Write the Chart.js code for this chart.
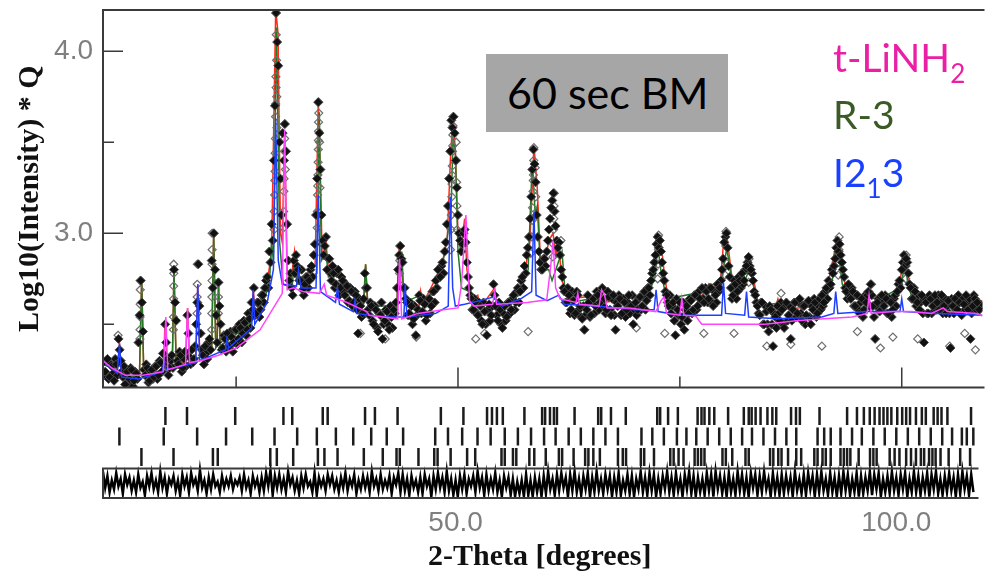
<!DOCTYPE html>
<html>
<head>
<meta charset="utf-8">
<script src="https://cdn.jsdelivr.net/npm/chart.js@4.4.1/dist/chart.umd.min.js"></script>
<style>
  body { margin: 0; background: #fff; }
  #wrap { position: relative; width: 988px; height: 572px; overflow: hidden; }
  canvas { position: absolute; left: 0; }
  .note { position: absolute; left: 486px; top: 54px; width: 242px; height: 78px; background: #a6a6a6;
          font-family: Lato, sans-serif; font-size: 43px; line-height: 78px; color: #000; box-sizing: border-box; padding-left: 21px; white-space: nowrap; }
  .phase { position: absolute; left: 833px; font-family: Lato, sans-serif; font-size: 39px; line-height: 1.2; white-space: nowrap; }
  .phase span { font-size: 26px; vertical-align: -11px; }
</style>
</head>
<body>
<div id="wrap">
  <canvas id="mainPlot" width="988" height="393" style="top:0"></canvas>
  <canvas id="lowerPlot" width="988" height="179" style="top:393px"></canvas>
  <div class="note">60 sec BM</div>
  <div class="phase" style="top:34px;color:#ea1fa5">t-LiNH<span>2</span></div>
  <div class="phase" style="top:91px;color:#3b5a26">R-3</div>
  <div class="phase" style="top:149px;color:#1a40ff">I2<span>1</span>3</div>
</div>
<script>
// 2-theta grid of the scan
const obsTwoTheta = [
  10,10.25,10.5,10.75,11,11.25,11.5,11.75,
  12,12.25,12.5,12.75,13,13.25,13.5,13.75,
  14,14.25,14.5,14.75,15,15.25,15.5,15.75,
  16,16.25,16.5,16.75,17,17.25,17.5,17.75,
  18,18.25,18.5,18.75,19,19.25,19.5,19.75,
  20,20.25,20.5,20.75,21,21.25,21.5,21.75,
  22,22.25,22.5,22.75,23,23.25,23.5,23.75,
  24,24.25,24.5,24.75,25,25.25,25.5,25.75,
  26,26.25,26.5,26.75,27,27.25,27.5,27.75,
  28,28.25,28.5,28.75,29,29.25,29.5,29.75,
  30,30.25,30.5,30.75,31,31.25,31.5,31.75,
  32,32.25,32.5,32.75,33,33.25,33.5,33.75,
  34,34.25,34.5,34.75,35,35.25,35.5,35.75,
  36,36.25,36.5,36.75,37,37.25,37.5,37.75,
  38,38.25,38.5,38.75,39,39.25,39.5,39.75,
  40,40.25,40.5,40.75,41,41.25,41.5,41.75,
  42,42.25,42.5,42.75,43,43.25,43.5,43.75,
  44,44.25,44.5,44.75,45,45.25,45.5,45.75,
  46,46.25,46.5,46.75,47,47.25,47.5,47.75,
  48,48.25,48.5,48.75,49,49.25,49.5,49.75,
  50,50.25,50.5,50.75,51,51.25,51.5,51.75,
  52,52.25,52.5,52.75,53,53.25,53.5,53.75,
  54,54.25,54.5,54.75,55,55.25,55.5,55.75,
  56,56.25,56.5,56.75,57,57.25,57.5,57.75,
  58,58.25,58.5,58.75,59,59.25,59.5,59.75,
  60,60.25,60.5,60.75,61,61.25,61.5,61.75,
  62,62.25,62.5,62.75,63,63.25,63.5,63.75,
  64,64.25,64.5,64.75,65,65.25,65.5,65.75,
  66,66.25,66.5,66.75,67,67.25,67.5,67.75,
  68,68.25,68.5,68.75,69,69.25,69.5,69.75,
  70,70.25,70.5,70.75,71,71.25,71.5,71.75,
  72,72.25,72.5,72.75,73,73.25,73.5,73.75,
  74,74.25,74.5,74.75,75,75.25,75.5,75.75,
  76,76.25,76.5,76.75,77,77.25,77.5,77.75,
  78,78.25,78.5,78.75,79,79.25,79.5,79.75,
  80,80.25,80.5,80.75,81,81.25,81.5,81.75,
  82,82.25,82.5,82.75,83,83.25,83.5,83.75,
  84,84.25,84.5,84.75,85,85.25,85.5,85.75,
  86,86.25,86.5,86.75,87,87.25,87.5,87.75,
  88,88.25,88.5,88.75,89,89.25,89.5,89.75,
  90,90.25,90.5,90.75,91,91.25,91.5,91.75,
  92,92.25,92.5,92.75,93,93.25,93.5,93.75,
  94,94.25,94.5,94.75,95,95.25,95.5,95.75,
  96,96.25,96.5,96.75,97,97.25,97.5,97.75,
  98,98.25,98.5,98.75,99,99.25,99.5,99.75,
  100,100.25,100.5,100.75,101,101.25,101.5,101.75,
  102,102.25,102.5,102.75,103,103.25,103.5,103.75,
  104,104.25,104.5,104.75,105,105.25,105.5,105.75,
  106,106.25,106.5,106.75,107,107.25,107.5,107.75,
  108,108.25,108.5,108.75
];

// observed log10(I)*Q on that grid
const obsIntensity = [
  2.29,2.24,2.31,2.21,2.27,2.19,2.28,2.42,
  2.30,2.21,2.17,2.24,2.20,2.25,2.19,2.23,
  2.40,2.74,2.46,2.22,2.26,2.19,2.25,2.21,
  2.27,2.22,2.29,2.34,2.50,2.31,2.26,2.33,
  2.80,2.52,2.28,2.33,2.26,2.35,2.55,2.32,
  2.36,2.31,2.50,2.83,2.45,2.33,2.38,2.31,
  2.42,2.85,3.00,2.55,2.73,2.50,2.37,2.42,
  2.45,2.38,2.43,2.40,2.47,2.42,2.48,2.45,
  2.51,2.47,2.53,2.62,2.70,2.56,2.62,2.58,
  2.66,2.70,2.76,2.90,3.05,3.40,4.21,3.92,
  3.30,3.55,3.60,3.05,2.74,2.70,2.85,2.88,
  2.80,2.74,2.69,2.72,2.76,2.74,2.82,2.88,
  3.10,3.72,3.35,2.96,2.93,2.80,2.86,2.74,
  2.78,2.72,2.80,2.70,2.74,2.66,2.71,2.63,
  2.68,2.62,2.66,2.45,2.60,2.56,2.78,2.70,
  2.55,2.60,2.50,2.58,2.46,2.55,2.42,2.52,
  2.57,2.47,2.54,2.58,2.62,2.80,2.93,2.84,
  2.70,2.62,2.56,2.60,2.53,2.44,2.58,2.63,
  2.57,2.61,2.55,2.64,2.60,2.68,2.74,2.80,
  2.76,2.84,2.90,3.05,3.30,3.62,3.64,3.40,
  3.10,2.96,2.94,3.02,2.84,2.70,2.64,2.58,
  2.62,2.55,2.60,2.50,2.57,2.44,2.61,2.55,
  2.72,2.60,2.52,2.58,2.48,2.60,2.54,2.62,
  2.58,2.66,2.62,2.70,2.68,2.76,2.82,2.88,
  2.98,3.20,3.46,3.28,2.98,2.84,2.80,2.86,
  2.90,3.02,3.14,3.22,3.04,2.92,2.88,2.76,
  2.68,2.62,2.66,2.58,2.63,2.56,2.66,2.60,
  2.53,2.47,2.58,2.62,2.55,2.64,2.60,2.66,
  2.62,2.70,2.64,2.58,2.65,2.55,2.66,2.47,
  2.60,2.64,2.56,2.62,2.58,2.66,2.60,2.50,
  2.62,2.58,2.65,2.60,2.68,2.63,2.70,2.74,
  2.80,2.88,2.98,2.96,2.84,2.74,2.66,2.60,
  2.56,2.62,2.44,2.58,2.62,2.54,2.47,2.60,
  2.56,2.63,2.58,2.66,2.60,2.64,2.70,2.62,
  2.68,2.64,2.70,2.60,2.66,2.72,2.70,2.80,
  2.95,3.00,2.82,2.70,2.66,2.72,2.68,2.74,
  2.78,2.74,2.82,2.87,2.80,2.74,2.66,2.60,
  2.55,2.62,2.50,2.57,2.46,2.58,2.38,2.54,
  2.60,2.52,2.58,2.48,2.62,2.55,2.42,2.58,
  2.62,2.56,2.64,2.52,2.60,2.55,2.63,2.50,
  2.58,2.62,2.56,2.64,2.66,2.62,2.70,2.74,
  2.72,2.78,2.86,2.96,2.94,2.84,2.76,2.68,
  2.72,2.64,2.68,2.60,2.66,2.56,2.64,2.58,
  2.62,2.68,2.72,2.60,2.42,2.62,2.57,2.66,
  2.60,2.64,2.56,2.62,2.58,2.66,2.68,2.74,
  2.80,2.88,2.86,2.78,2.70,2.64,2.68,2.62,
  2.58,2.66,2.40,2.62,2.56,2.64,2.60,2.66,
  2.62,2.58,2.66,2.60,2.56,2.63,2.37,2.60,
  2.64,2.58,2.62,2.55,2.61,2.66,2.58,2.42,
  2.60,2.64,2.62,2.58
];

// the interleaved scan points half a step later
const obsTwoThetaMid = [
  10.125,10.375,10.625,10.875,11.125,11.375,11.625,11.875,
  12.125,12.375,12.625,12.875,13.125,13.375,13.625,13.875,
  14.125,14.375,14.625,14.875,15.125,15.375,15.625,15.875,
  16.125,16.375,16.625,16.875,17.125,17.375,17.625,17.875,
  18.125,18.375,18.625,18.875,19.125,19.375,19.625,19.875,
  20.125,20.375,20.625,20.875,21.125,21.375,21.625,21.875,
  22.125,22.375,22.625,22.875,23.125,23.375,23.625,23.875,
  24.125,24.375,24.625,24.875,25.125,25.375,25.625,25.875,
  26.125,26.375,26.625,26.875,27.125,27.375,27.625,27.875,
  28.125,28.375,28.625,28.875,29.125,29.375,29.625,29.875,
  30.125,30.375,30.625,30.875,31.125,31.375,31.625,31.875,
  32.125,32.375,32.625,32.875,33.125,33.375,33.625,33.875,
  34.125,34.375,34.625,34.875,35.125,35.375,35.625,35.875,
  36.125,36.375,36.625,36.875,37.125,37.375,37.625,37.875,
  38.125,38.375,38.625,38.875,39.125,39.375,39.625,39.875,
  40.125,40.375,40.625,40.875,41.125,41.375,41.625,41.875,
  42.125,42.375,42.625,42.875,43.125,43.375,43.625,43.875,
  44.125,44.375,44.625,44.875,45.125,45.375,45.625,45.875,
  46.125,46.375,46.625,46.875,47.125,47.375,47.625,47.875,
  48.125,48.375,48.625,48.875,49.125,49.375,49.625,49.875,
  50.125,50.375,50.625,50.875,51.125,51.375,51.625,51.875,
  52.125,52.375,52.625,52.875,53.125,53.375,53.625,53.875,
  54.125,54.375,54.625,54.875,55.125,55.375,55.625,55.875,
  56.125,56.375,56.625,56.875,57.125,57.375,57.625,57.875,
  58.125,58.375,58.625,58.875,59.125,59.375,59.625,59.875,
  60.125,60.375,60.625,60.875,61.125,61.375,61.625,61.875,
  62.125,62.375,62.625,62.875,63.125,63.375,63.625,63.875,
  64.125,64.375,64.625,64.875,65.125,65.375,65.625,65.875,
  66.125,66.375,66.625,66.875,67.125,67.375,67.625,67.875,
  68.125,68.375,68.625,68.875,69.125,69.375,69.625,69.875,
  70.125,70.375,70.625,70.875,71.125,71.375,71.625,71.875,
  72.125,72.375,72.625,72.875,73.125,73.375,73.625,73.875,
  74.125,74.375,74.625,74.875,75.125,75.375,75.625,75.875,
  76.125,76.375,76.625,76.875,77.125,77.375,77.625,77.875,
  78.125,78.375,78.625,78.875,79.125,79.375,79.625,79.875,
  80.125,80.375,80.625,80.875,81.125,81.375,81.625,81.875,
  82.125,82.375,82.625,82.875,83.125,83.375,83.625,83.875,
  84.125,84.375,84.625,84.875,85.125,85.375,85.625,85.875,
  86.125,86.375,86.625,86.875,87.125,87.375,87.625,87.875,
  88.125,88.375,88.625,88.875,89.125,89.375,89.625,89.875,
  90.125,90.375,90.625,90.875,91.125,91.375,91.625,91.875,
  92.125,92.375,92.625,92.875,93.125,93.375,93.625,93.875,
  94.125,94.375,94.625,94.875,95.125,95.375,95.625,95.875,
  96.125,96.375,96.625,96.875,97.125,97.375,97.625,97.875,
  98.125,98.375,98.625,98.875,99.125,99.375,99.625,99.875,
  100.125,100.375,100.625,100.875,101.125,101.375,101.625,101.875,
  102.125,102.375,102.625,102.875,103.125,103.375,103.625,103.875,
  104.125,104.375,104.625,104.875,105.125,105.375,105.625,105.875,
  106.125,106.375,106.625,106.875,107.125,107.375,107.625,107.875,
  108.125,108.375,108.625,108.875
];

const obsIntensityMid = [
  2.22,2.30,2.20,2.28,2.23,2.31,2.22,2.36,
  2.24,2.27,2.21,2.18,2.26,2.16,2.24,2.20,
  2.55,2.62,2.25,2.28,2.18,2.24,2.20,2.27,
  2.20,2.30,2.24,2.28,2.40,2.22,2.30,2.26,
  2.62,2.30,2.35,2.24,2.31,2.27,2.45,2.28,
  2.29,2.38,2.62,2.60,2.36,2.28,2.34,2.40,
  2.36,2.70,2.80,2.40,2.60,2.36,2.44,2.35,
  2.38,2.46,2.35,2.47,2.39,2.50,2.40,2.52,
  2.44,2.56,2.48,2.58,2.55,2.62,2.54,2.66,
  2.62,2.74,2.70,2.84,2.96,3.70,4.05,3.50,
  3.10,3.40,3.45,2.85,2.78,2.66,2.78,2.82,
  2.74,2.80,2.66,2.76,2.70,2.80,2.76,2.94,
  3.30,3.55,3.10,2.88,2.98,2.86,2.78,2.82,
  2.70,2.78,2.66,2.76,2.68,2.72,2.62,2.70,
  2.60,2.68,2.58,2.64,2.54,2.64,2.70,2.58,
  2.62,2.52,2.60,2.48,2.56,2.62,2.50,2.58,
  2.50,2.60,2.48,2.56,2.70,2.88,2.86,2.70,
  2.64,2.55,2.62,2.50,2.60,2.55,2.66,2.56,
  2.64,2.52,2.62,2.56,2.68,2.62,2.70,2.76,
  2.82,2.78,2.95,3.15,3.45,3.58,3.55,3.25,
  3.00,2.90,3.00,2.95,2.76,2.66,2.58,2.64,
  2.56,2.62,2.52,2.62,2.50,2.58,2.52,2.60,
  2.66,2.55,2.62,2.50,2.56,2.52,2.62,2.56,
  2.64,2.58,2.68,2.62,2.74,2.70,2.78,2.92,
  3.08,3.35,3.38,3.10,2.90,2.80,2.86,2.82,
  2.96,3.08,3.18,3.12,2.96,2.95,2.80,2.70,
  2.62,2.70,2.56,2.68,2.55,2.68,2.58,2.54,
  2.60,2.55,2.66,2.54,2.62,2.56,2.68,2.58,
  2.68,2.60,2.56,2.68,2.58,2.64,2.55,2.62,
  2.66,2.55,2.64,2.54,2.62,2.56,2.66,2.58,
  2.55,2.64,2.58,2.66,2.58,2.70,2.66,2.78,
  2.84,2.94,2.92,2.90,2.78,2.68,2.62,2.66,
  2.60,2.52,2.64,2.55,2.50,2.62,2.58,2.52,
  2.64,2.56,2.66,2.58,2.68,2.62,2.64,2.70,
  2.62,2.70,2.62,2.68,2.62,2.68,2.74,2.86,
  2.98,2.92,2.76,2.64,2.74,2.64,2.76,2.70,
  2.72,2.80,2.84,2.82,2.78,2.68,2.62,2.56,
  2.62,2.50,2.60,2.50,2.60,2.50,2.56,2.48,
  2.56,2.62,2.50,2.60,2.52,2.60,2.52,2.62,
  2.54,2.62,2.56,2.60,2.50,2.62,2.54,2.60,
  2.64,2.54,2.60,2.58,2.60,2.68,2.64,2.70,
  2.80,2.82,2.92,2.90,2.88,2.80,2.70,2.64,
  2.66,2.70,2.60,2.66,2.58,2.62,2.54,2.66,
  2.66,2.60,2.66,2.54,2.60,2.64,2.58,2.62,
  2.66,2.56,2.64,2.54,2.64,2.60,2.72,2.70,
  2.84,2.82,2.84,2.72,2.64,2.70,2.60,2.66,
  2.62,2.56,2.64,2.56,2.66,2.56,2.64,2.58,
  2.66,2.62,2.56,2.64,2.60,2.56,2.64,2.56,
  2.60,2.66,2.56,2.64,2.58,2.62,2.64,2.56,
  2.66,2.58,2.62,2.60
];

const obsExtra = [
  [29.5,4.21],[29.52,4.09],[29.48,3.86],[29.5,3.80],[29.46,3.71],[29.44,3.64],[29.42,3.52],[29.4,3.44],
  [29.38,3.34],[29.36,3.29],[29.34,3.21],[29.3,3.12],[29.28,3.02],[29.56,3.95],[29.58,3.75],[29.6,3.58],
  [30.45,3.60],[30.47,3.52],[30.44,3.45],[30.42,3.40],[30.4,3.30],[30.38,3.23],[30.36,3.12],[30.34,3.03],[30.55,3.35],
  [34.3,3.72],[34.31,3.66],[34.29,3.61],[34.28,3.56],[34.27,3.51],[34.26,3.46],[34.24,3.39],[34.22,3.32],
  [34.2,3.26],[34.18,3.21],[34.16,3.12],[34.14,3.03],[34.4,3.50],[34.45,3.25],
  [49.45,3.64],[49.44,3.59],[49.42,3.54],[49.4,3.48],[49.38,3.45],[49.36,3.37],[49.34,3.32],[49.32,3.27],
  [49.3,3.20],[49.26,3.10],[49.22,3.02],[49.15,2.91],[49.8,3.50],[49.82,3.40],[49.85,3.28],[49.88,3.15],[49.9,3.02],
  [58.55,3.47],[58.53,3.40],[58.5,3.32],[58.48,3.29],[58.45,3.23],[58.4,3.14],[58.36,3.07],[58.3,2.98],
  [58.2,2.89],[58.7,3.36],[58.75,3.20],
  [60.84,3.22],[60.82,3.15],[60.8,3.08],[60.78,3.02],[60.75,2.94],[60.7,2.87],
  [22.3,3.00],[22.3,2.91],[22.29,2.83],[22.28,2.74],[22.27,2.65],[22.26,2.56],[22.25,2.47],
  [14.2,2.74],[14.2,2.69],[14.19,2.61],[14.18,2.54],[14.17,2.47],[14.16,2.42],
  [17.97,2.83],[17.97,2.78],[17.96,2.71],[17.95,2.64],[17.94,2.54],[17.93,2.47],
  [20.63,2.83],[20.62,2.72],[20.61,2.65],[20.6,2.56],[23.02,2.73],[23.01,2.65],[23.0,2.56],
  [43.45,2.93],[43.43,2.85],[43.41,2.78],[43.6,2.71],[72.6,2.99],[72.58,2.91],[72.55,2.83],[72.5,2.75],
  [80.2,3.01],[80.18,2.93],[80.15,2.84],[80.1,2.77],[82.8,2.86],[82.78,2.80],[82.75,2.73],
  [92.95,2.98],[92.93,2.91],[92.9,2.84],[92.85,2.77],[100.5,2.88],[100.48,2.82],[100.45,2.75],
  [11.7,2.44],[39.0,2.45],[41.8,2.42],[45.3,2.43],[52.0,2.42],[53.0,2.45],[57.9,2.46],[61.6,2.96],
  [64.2,2.47],[70.1,2.48],[73.3,2.45],[77.7,2.45],[81.1,2.45],[84.8,2.38],[86.4,2.67],[87.5,2.39],
  [91.0,2.38],[95.0,2.46],[96.6,2.72],[97.6,2.37],[99.0,2.43],[101.8,2.42],[105.4,2.38],[107.1,2.45],[108.3,2.36]
];

// observed minus calculated (scaled to the difference strip)
const diffCurve = [
  0.8,-0.3,0.5,-0.6,0.2,-0.4,0.7,-0.2,
  0.3,-0.7,0.6,-0.1,0.4,-0.5,0.2,-0.6,
  0.6,-0.3,0.1,-0.8,0.5,-0.2,0.7,-0.4,
  0.2,-0.6,0.8,-0.3,0.4,-0.7,0.3,-0.1,
  0.5,-0.5,0.2,-0.8,0.6,-0.2,0.4,-0.6,
  0.7,-0.1,0.3,-0.5,0.9,-0.3,0.2,-0.7,
  0.4,-0.4,0.6,-0.2,0.1,-0.6,0.5,-0.3,
  0.3,-0.2,0.5,-0.4,0.2,-0.1,0.4,-0.5,
  0.6,-0.3,0.2,-0.7,0.5,-0.2,0.3,-0.6,
  0.4,-0.5,0.7,-0.2,0.9,-0.8,0.5,-0.3,
  0.6,-0.4,0.3,-0.6,0.8,-0.1,0.4,-0.5,
  0.2,-0.7,0.5,-0.3,0.6,-0.2,0.1,-0.6,
  0.7,-0.8,0.4,-0.2,0.3,-0.5,0.6,-0.1,
  0.5,-0.4,0.2,-0.6,0.4,-0.3,0.7,-0.5,
  0.3,-0.2,0.6,-0.7,0.2,-0.4,0.5,-0.3,
  0.4,-0.6,0.8,-0.2,0.3,-0.5,0.6,-0.4,
  0.2,-0.3,0.5,-0.7,0.4,-0.1,0.7,-0.6,
  0.6,-0.5,0.3,-0.8,0.5,-0.3,0.2,-0.6,
  0.4,-0.7,0.6,-0.2,0.3,-0.9,0.5,-0.4,
  0.7,-0.3,0.4,-0.6,0.8,-0.5,0.3,-0.8,
  0.2,-0.9,0.5,-0.4,0.6,-0.7,0.3,-0.2,
  0.5,-0.6,0.8,-0.3,0.4,-0.8,0.6,-0.5,
  0.3,-0.4,0.7,-0.6,0.2,-0.9,0.5,-0.3,
  0.4,-0.8,0.3,-0.9,0.1,-0.7,0.2,-0.9,
  0.6,-0.8,0.2,-0.9,0.4,-0.6,0.3,-0.9,
  0.5,-0.7,0.8,-0.4,0.3,-0.8,0.6,-0.5,
  0.7,-0.3,0.4,-0.9,0.6,-0.5,0.8,-0.6,
  0.3,-0.8,0.5,-0.4,0.7,-0.9,0.4,-0.6,
  0.8,-0.5,0.3,-0.7,0.6,-0.4,0.5,-0.9,
  0.4,-0.6,0.7,-0.8,0.2,-0.5,0.6,-0.7,
  0.5,-0.9,0.3,-0.4,0.8,-0.6,0.4,-0.8,
  0.7,-0.5,0.6,-0.9,0.3,-0.7,0.5,-0.4,
  0.8,-0.6,0.4,-0.8,0.7,-0.5,0.3,-0.9,
  0.6,-0.4,0.8,-0.7,0.5,-0.9,0.4,-0.6,
  0.3,-0.8,0.7,-0.5,0.6,-0.9,0.8,-0.4,
  0.5,-0.7,0.4,-0.9,0.7,-0.6,0.3,-0.8,
  0.8,-0.5,0.6,-0.7,0.4,-0.9,0.7,-0.3,
  0.6,-0.8,0.5,-0.6,0.8,-0.4,0.3,-0.9,
  0.7,-0.6,0.4,-0.8,0.6,-0.7,0.5,-0.5,
  0.4,-0.9,0.8,-0.5,0.3,-0.7,0.6,-0.8,
  0.7,-0.4,0.5,-0.9,0.6,-0.6,0.8,-0.5,
  0.3,-0.8,0.7,-0.6,0.4,-0.9,0.5,-0.7,
  0.8,-0.5,0.6,-0.8,0.3,-0.6,0.7,-0.9,
  0.5,-0.7,0.4,-0.5,0.8,-0.8,0.6,-0.4,
  0.7,-0.9,0.3,-0.6,0.5,-0.7,0.8,-0.5,
  0.4,-0.8,0.6,-0.4,0.7,-0.9,0.3,-0.6,
  0.8,-0.6,0.5,-0.8,0.4,-0.5,0.7,-0.9,
  0.6,-0.4,0.8,-0.7,0.3,-0.8,0.5,-0.6,
  0.7,-0.5,0.4,-0.9,0.6,-0.7,0.8,-0.4,
  0.5,-0.8,0.6,-0.6
];

// calculated profiles [2theta, log10(I)*Q]
const calcTotal = [
  [10,2.29],[11.6,2.24],[11.86,2.40],[12.1,2.22],[14.1,2.21],[14.36,2.75],[14.6,2.22],
  [16.8,2.25],[17.0,2.52],[17.2,2.26],[17.8,2.27],[18.0,2.80],[18.25,2.28],[19.3,2.30],
  [19.53,2.59],[19.75,2.31],[20.45,2.33],[20.68,2.72],[20.9,2.34],[22.25,2.37],[22.47,3.01],
  [22.7,2.40],[22.85,2.40],[23.02,2.73],[23.2,2.40],[26.7,2.52],[26.93,2.69],[27.15,2.56],
  [28.0,2.66],[28.6,2.76],[29.0,2.90],[29.46,4.23],[29.72,4.10],[30.0,3.00],[30.2,2.95],
  [30.47,3.56],[30.75,2.80],[31.2,2.74],[31.58,2.90],[31.9,2.75],[32.03,2.80],[32.2,2.74],
  [33.9,2.82],[34.26,3.73],[34.5,3.30],[34.7,2.86],[34.93,2.88],[35.12,2.95],[35.4,2.80],
  [36.42,2.78],[37.5,2.70],[39.4,2.62],[39.59,2.83],[39.8,2.62],[40.6,2.58],[42.0,2.56],
  [43.1,2.58],[43.3,2.88],[43.42,2.93],[43.67,2.85],[43.9,2.64],[45.6,2.60],[45.79,2.68],
  [46.0,2.61],[47.58,2.76],[48.33,2.86],[48.8,2.98],[49.14,3.40],[49.44,3.65],[49.7,3.45],
  [50.0,3.00],[50.3,2.90],[50.75,3.08],[51.0,2.80],[51.6,2.64],[52.23,2.66],[52.5,2.59],
  [54.13,2.70],[54.4,2.59],[56.5,2.64],[57.5,2.78],[58.1,2.95],[58.56,3.48],[58.93,3.25],
  [59.3,2.84],[59.8,2.84],[60.23,2.96],[60.71,3.00],[61.0,2.88],[61.35,2.94],[61.7,2.74],
  [62.5,2.64],[66.18,2.66],[66.5,2.62],[71.5,2.66],[72.2,2.80],[72.51,2.99],[72.88,2.95],
  [73.2,2.80],[73.6,2.66],[74.5,2.62],[77.5,2.66],[78.24,2.72],[78.6,2.68],[79.6,2.76],
  [79.91,2.94],[80.28,2.99],[80.66,2.84],[81.0,2.70],[81.8,2.74],[82.51,2.86],[82.89,2.87],
  [83.26,2.76],[83.8,2.62],[85.68,2.58],[86.05,2.64],[86.4,2.58],[90.5,2.60],[91.6,2.70],
  [92.56,2.93],[92.9,2.97],[93.3,2.80],[93.8,2.68],[95.5,2.64],[96.99,2.66],[97.4,2.64],
  [99.6,2.66],[100.0,2.80],[100.36,2.88],[100.75,2.74],[101.2,2.66],[103.16,2.66],
  [104.46,2.68],[104.7,2.62],[109.1,2.63]
];

const calcR3 = [
  [10,2.28],[14.1,2.20],[14.36,2.745],[14.6,2.21],[17.8,2.25],[18.0,2.80],[18.25,2.26],
  [22.25,2.35],[22.47,3.005],[22.7,2.37],[22.85,2.38],[23.02,2.725],[23.2,2.38],[26.5,2.50],
  [28.0,2.62],[28.75,2.72],[28.98,2.95],[29.2,2.85],[29.55,4.13],[29.9,2.95],[30.3,2.72],
  [31.3,2.70],[31.58,2.86],[31.85,2.72],[34.1,2.78],[34.38,3.665],[34.6,2.85],[35.12,2.90],
  [35.4,2.76],[36.61,2.80],[36.9,2.72],[39.35,2.61],[39.59,2.83],[39.85,2.60],[41.74,2.60],
  [42.0,2.55],[43.1,2.57],[43.3,2.85],[43.5,2.70],[43.67,2.90],[43.9,2.62],[45.79,2.66],
  [46.1,2.60],[47.58,2.72],[47.96,2.74],[49.2,3.10],[49.44,3.52],[49.7,3.45],[50.0,2.90],
  [50.4,2.70],[51.31,2.68],[51.6,2.60],[55.58,2.62],[56.89,2.66],[57.9,2.80],[58.37,3.40],
  [58.7,3.10],[58.93,3.15],[59.3,2.80],[60.23,2.80],[60.6,2.74],[61.72,2.90],[62.0,2.72],
  [62.5,2.62],[65.07,2.64],[68.42,2.64],[71.4,2.66],[72.2,2.76],[72.51,2.93],[72.9,2.78],
  [73.5,2.64],[77.87,2.68],[78.24,2.70],[79.8,2.76],[80.28,2.92],[80.66,2.80],[81.0,2.68],
  [82.5,2.76],[82.89,2.82],[83.26,2.72],[83.8,2.60],[86.61,2.62],[88.65,2.62],[91.63,2.66],
  [92.2,2.75],[92.56,2.92],[92.9,2.88],[93.3,2.72],[94.0,2.65],[97.4,2.64],[99.9,2.70],
  [100.36,2.84],[100.7,2.72],[101.2,2.64],[104.1,2.66],[109.1,2.62]
];

const calcI213 = [
  [10,2.30],[11.6,2.23],[11.86,2.39],[12.1,2.21],[14,2.20],[16.7,2.24],[16.89,2.30],[17.1,2.25],
  [20.45,2.29],[20.68,2.72],[20.9,2.30],[23.8,2.36],[23.96,2.42],[24.15,2.37],[26.75,2.48],
  [26.93,2.69],[27.1,2.50],[28.5,2.62],[29.2,2.80],[29.46,3.63],[29.75,2.85],[30.2,2.72],
  [31.8,2.71],[32.03,2.80],[32.3,2.70],[34.0,2.70],[34.26,3.21],[34.5,2.68],[36.2,2.62],
  [36.42,2.70],[36.65,2.61],[38.2,2.57],[38.39,2.63],[38.6,2.56],[40.0,2.55],[42.19,2.54],
  [43.9,2.54],[44.05,2.72],[44.25,2.54],[47.5,2.56],[48.9,2.60],[49.14,3.20],[49.4,2.70],
  [49.7,2.60],[50.75,2.61],[52.49,2.63],[53.98,2.65],[55,2.60],[57.07,2.64],[58.3,2.68],
  [58.56,3.12],[58.8,2.66],[60.04,2.63],[61.35,2.66],[62.0,2.61],[65.63,2.60],[70.0,2.58],
  [72.1,2.58],[72.32,2.69],[72.55,2.57],[75.0,2.55],[79.7,2.55],[79.91,2.73],[80.15,2.56],
  [82.3,2.55],[82.51,2.68],[82.75,2.54],[86.0,2.53],[91.0,2.54],[92.35,2.56],[92.56,2.68],
  [92.8,2.56],[96,2.57],[99.8,2.57],[100.0,2.64],[100.2,2.57],[104,2.56],[109.1,2.55]
];

const calcLiNH2 = [
  [10,2.30],[11.0,2.26],[12.5,2.22],[14.5,2.22],[16.8,2.24],[17.08,2.54],[17.3,2.25],
  [19.3,2.28],[19.53,2.59],[19.75,2.29],[21.0,2.30],[23.0,2.33],[25.0,2.37],[27.7,2.47],
  [30.2,2.67],[30.47,3.57],[30.75,2.69],[31.47,2.70],[32.5,2.68],[34.4,2.67],[34.93,2.72],
  [35.2,2.66],[37.5,2.62],[38.8,2.59],[39.73,2.57],[40.0,2.55],[43.2,2.53],[43.42,2.86],
  [43.65,2.53],[45.5,2.56],[48.33,2.58],[50.0,2.59],[50.4,2.72],[50.89,3.10],[51.3,2.63],
  [51.8,2.60],[53.9,2.61],[54.13,2.68],[54.35,2.61],[57.81,2.62],[60.0,2.635],[60.45,2.82],
  [60.71,2.96],[61.0,2.70],[61.5,2.64],[63.3,2.62],[63.5,2.67],[63.7,2.61],[65.9,2.60],
  [66.18,2.69],[66.52,2.66],[66.8,2.59],[69.31,2.59],[72.3,2.57],[72.88,2.63],[73.21,2.65],
  [73.5,2.56],[75.0,2.55],[75.22,2.64],[75.45,2.55],[76.8,2.545],[77.46,2.50],[79.35,2.50],
  [82.7,2.50],[84.6,2.50],[86.4,2.51],[88.06,2.52],[91.29,2.53],[94.42,2.54],[96.1,2.56],
  [96.32,2.66],[96.55,2.56],[99,2.57],[101.12,2.57],[103.35,2.56],[104.69,2.59],[105.13,2.57],
  [108.48,2.56],[109.1,2.545]
];

// reflection positions (2theta) of each phase
const reflLiNH2 = [17.08,19.53,25.00,30.47,31.47,34.93,35.49,39.73,40.85,43.42,48.33,50.89,53.57,
  54.13,54.69,55.36,57.81,59.82,60.16,60.71,61.16,61.50,63.50,66.18,66.52,67.63,69.31,72.88,
  73.21,74.11,75.22,77.46,77.90,78.24,78.79,79.35,80.92,82.70,83.26,83.59,84.04,84.60,85.38,
  85.94,86.38,88.06,88.62,89.06,91.29,94.42,95.54,96.32,96.99,97.54,98.10,98.55,98.99,99.44,
  100.11,100.67,101.12,101.56,102.23,102.90,103.35,104.24,104.69,105.13,105.80,108.48];
const reflI213 = [11.86,16.89,20.68,23.96,26.93,29.46,32.03,34.26,36.42,38.39,40.43,42.19,44.05,
  47.69,49.14,50.75,52.49,53.98,55.58,57.07,58.56,60.04,61.35,62.83,64.21,65.63,67.00,68.42,
  71.09,72.32,73.63,75.11,76.19,77.31,78.60,79.91,81.22,82.51,83.63,84.93,86.24,87.53,88.65,
  91.07,91.82,92.56,93.67,94.98,96.09,97.40,98.69,100.00,101.31,102.60,103.91,105.21,106.33,
  107.44,108.00,108.74];
const reflR3 = [14.36,18.00,22.47,23.02,28.98,29.72,31.58,34.38,35.12,36.61,39.59,41.74,43.30,
  43.67,45.79,47.58,47.96,49.44,51.31,52.23,55.21,55.58,56.51,56.89,58.37,58.93,60.23,61.72,
  62.09,63.39,64.70,65.07,65.63,66.37,68.42,68.97,69.34,71.02,71.40,72.51,74.36,74.74,75.30,
  75.86,77.12,77.49,77.87,78.24,80.28,80.66,81.39,82.89,83.26,85.68,86.05,86.61,86.98,87.72,
  88.65,89.21,90.70,91.07,91.63,92.00,92.56,93.67,94.05,94.42,94.79,95.73,97.02,97.40,97.77,
  99.25,99.81,100.36,101.12,101.67,102.23,102.79,103.16,103.72,104.10,104.46,105.02,105.94,
  107.25,108.37];

// axis ticks
const xMajorTicks = [50, 100];
const xMinorTicks = [25, 75];
const yMajorTicks = [3.0, 4.0];
const yMinorTicks = [2.5, 3.5];

const X_MIN = 10, X_MAX = 109.1;
const tickFont = { family: '"Liberation Sans", Arial, sans-serif', size: 28 };
const titleFont = { family: '"Liberation Serif", "Times New Roman", serif', size: 30, weight: 'bold', lineHeight: 1 };

// frame and inward tick marks of the main panel
const mainFrame = {
    id: 'mainFrame',
    afterDatasetsDraw(chart) {
        const { ctx, chartArea: a, scales: { x, y } } = chart;
        ctx.save();
        ctx.strokeStyle = '#3a3a3a';
        ctx.lineWidth = 2;
        ctx.beginPath();
        ctx.moveTo(a.right + 2, a.top);
        ctx.lineTo(a.left, a.top);
        ctx.lineTo(a.left, a.bottom);
        ctx.lineTo(a.right + 2, a.bottom);
        ctx.stroke();
        ctx.lineWidth = 1.5;
        ctx.beginPath();
        yMajorTicks.forEach(v => { const p = y.getPixelForValue(v); ctx.moveTo(a.left, p); ctx.lineTo(a.left + 20, p); });
        yMinorTicks.forEach(v => { const p = y.getPixelForValue(v); ctx.moveTo(a.left, p); ctx.lineTo(a.left + 11, p); });
        xMajorTicks.forEach(v => { const p = x.getPixelForValue(v); ctx.moveTo(p, a.bottom); ctx.lineTo(p, a.bottom - 20); });
        xMinorTicks.forEach(v => { const p = x.getPixelForValue(v); ctx.moveTo(p, a.bottom); ctx.lineTo(p, a.bottom - 11); });
        ctx.stroke();
        ctx.restore();
    }
};

// box around the difference curve
const diffFrame = {
    id: 'diffFrame',
    afterDatasetsDraw(chart) {
        const { ctx, chartArea: a, scales: { yd } } = chart;
        const top = yd.getPixelForValue(1), bottom = yd.getPixelForValue(-1);
        ctx.save();
        ctx.strokeStyle = '#3a3a3a';
        ctx.lineWidth = 2;
        ctx.beginPath();
        ctx.moveTo(a.right + 2, top);
        ctx.lineTo(a.left, top);
        ctx.lineTo(a.left, bottom);
        ctx.lineTo(a.right + 2, bottom);
        ctx.stroke();
        ctx.restore();
    }
};

function profile(label, data, color, order) {
    return { label: label, data: data, borderColor: color, borderWidth: 1.5, pointRadius: 0, fill: false, tension: 0, order: order };
}

function observed(label, xs, ys) {
    return {
        label: label,
        data: xs.map((t, i) => ({ x: t, y: ys[i] })),
        showLine: false,
        pointStyle: 'rectRot',
        pointRadius: 4.5,
        pointBorderWidth: 1,
        pointBorderColor: '#4a4a4a',
        pointBackgroundColor: '#111',
        order: 3
    };
}

new Chart(document.getElementById('mainPlot'), {
    type: 'line',
    data: {
        datasets: [
            observed('observed', obsTwoTheta, obsIntensity),
            observed('observed (mid)', obsTwoThetaMid, obsIntensityMid),
            {
                label: 'observed (flanks)',
                data: obsExtra,
                showLine: false,
                pointStyle: 'rectRot',
                pointRadius: 4,
                pointBorderWidth: 1.2,
                pointBorderColor: '#6e6e6e',
                pointBackgroundColor: 'rgba(255,255,255,0)',
                order: 3
            },
            profile('calc', calcTotal, '#ff2a1a', 5),
            profile('R-3', calcR3, '#1f7a1f', 4),
            profile('I2_13', calcI213, '#1f3fff', 2),
            profile('t-LiNH2', calcLiNH2, '#ff44ff', 1)
        ]
    },
    options: {
        responsive: false,
        animation: false,
        layout: { padding: { top: 10, right: 0, bottom: 1, left: 0 } },
        plugins: { legend: { display: false }, tooltip: { enabled: false } },
        scales: {
            x: { type: 'linear', min: X_MIN, max: X_MAX, display: false },
            y: {
                type: 'linear', min: 2.153, max: 4.226, position: 'left',
                grid: { display: false, drawTicks: false },
                border: { display: false },
                afterBuildTicks: s => { s.ticks = yMajorTicks.map(v => ({ value: v })); },
                ticks: { padding: 10, color: '#7f7f7f', font: tickFont, callback: v => v.toFixed(1) },
                title: { display: true, text: 'Log10(Intensity) * Q', color: '#111', font: titleFont, padding: { top: 15, bottom: 0 } },
                afterFit: s => { s.width = 103; s.paddingTop = 0; s.paddingBottom = 0; }
            }
        }
    },
    plugins: [mainFrame]
});

function reflRow(positions, row) {
    return {
        data: positions.map(t => ({ x: t, y: row })),
        yAxisID: 'yr',
        showLine: false,
        pointStyle: 'line',
        pointRotation: 90,
        pointRadius: 9,
        pointBorderWidth: 2.5,
        pointBorderColor: '#1c1c1c'
    };
}

new Chart(document.getElementById('lowerPlot'), {
    type: 'line',
    data: {
        datasets: [
            reflRow(reflLiNH2, 1),
            reflRow(reflI213, 2),
            reflRow(reflR3, 3),
            {
                data: obsTwoTheta.map((t, i) => ({ x: t, y: diffCurve[i] })),
                yAxisID: 'yd',
                borderColor: '#000',
                borderWidth: 2.5,
                pointRadius: 0,
                tension: 0
            }
        ]
    },
    options: {
        responsive: false,
        animation: false,
        layout: { padding: { top: 0, right: 0, bottom: 0, left: 103 } },
        plugins: { legend: { display: false }, tooltip: { enabled: false } },
        scales: {
            x: {
                type: 'linear', min: X_MIN, max: X_MAX, position: 'bottom',
                grid: { display: false, drawTicks: false },
                border: { display: false },
                afterBuildTicks: s => { s.ticks = xMajorTicks.map(v => ({ value: v })); },
                ticks: { padding: 8, color: '#7f7f7f', font: tickFont, maxRotation: 0, autoSkip: false, callback: v => v.toFixed(1) },
                title: { display: true, text: '2-Theta [degrees]', color: '#111', font: titleFont, padding: { top: 0, bottom: 0 } },
                afterFit: s => { s.height = 74; s.paddingLeft = 0; s.paddingRight = 0; }
            },
            yr: { type: 'linear', min: 0.435, max: 5.0, reverse: true, display: false },
            yd: { type: 'linear', min: -1, max: 5.364, display: false }
        }
    },
    plugins: [diffFrame]
});
</script>
</body>
</html>
